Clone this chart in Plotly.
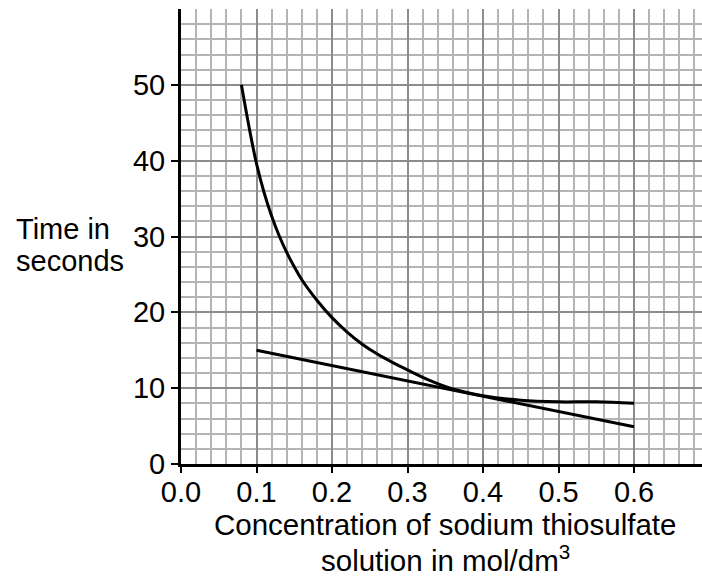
import plotly.graph_objects as go

# Curve: time taken vs concentration
curve_x = [0.08, 0.09, 0.10, 0.11, 0.12, 0.13, 0.14, 0.15, 0.16, 0.18, 0.20,
           0.22, 0.24, 0.26, 0.28, 0.30, 0.33, 0.36, 0.40, 0.45, 0.50, 0.55, 0.60]
curve_y = [50.0, 44.5, 39.6, 35.8, 32.7, 30.1, 27.9, 26.0, 24.3, 21.6, 19.3,
           17.4, 15.8, 14.5, 13.4, 12.4, 11.0, 9.9, 9.0, 8.4, 8.2, 8.2, 8.0]

# Tangent line drawn at 0.4 mol/dm3
tangent_x = [0.10, 0.60]
tangent_y = [15.0, 4.9]

x_ticks = [0.0, 0.1, 0.2, 0.3, 0.4, 0.5, 0.6]
x_ticktext = ["0.0", "0.1", "0.2", "0.3", "0.4", "0.5", "0.6"]
y_ticks = [0, 10, 20, 30, 40, 50]
y_ticktext = ["0", "10", "20", "30", "40", "50"]

FONT = "Liberation Sans, Arial, sans-serif"
FS = 29
MAJOR = "#8c8c8c"
MINOR = "#b4b4b4"

fig = go.Figure()
fig.add_trace(go.Scatter(x=curve_x, y=curve_y, mode="lines",
                         line=dict(color="black", width=3, shape="spline", smoothing=1.0),
                         hoverinfo="skip", showlegend=False))
fig.add_trace(go.Scatter(x=tangent_x, y=tangent_y, mode="lines",
                         line=dict(color="black", width=3),
                         hoverinfo="skip", showlegend=False))

fig.update_layout(
    width=702, height=578,
    margin=dict(l=181, r=0, t=9, b=114, autoexpand=False),
    paper_bgcolor="white", plot_bgcolor="white",
    font=dict(family=FONT, size=FS, color="black"),
    showlegend=False,
    xaxis=dict(
        range=[0, 0.690], tickvals=x_ticks, ticktext=x_ticktext, automargin=False,
        showgrid=True, gridcolor=MAJOR, gridwidth=2,
        minor=dict(dtick=0.02, tick0=0, showgrid=True, gridcolor=MINOR, gridwidth=1.5,
                   ticks=""),
        showline=True, linecolor="black", linewidth=3,
        ticks="outside", ticklen=6, tickwidth=1.5, tickcolor="black",
        ticklabelstandoff=-6,
        zeroline=False, tickfont=dict(size=FS),
    ),
    yaxis=dict(
        range=[0, 60], tickvals=y_ticks, ticktext=y_ticktext, automargin=False,
        showgrid=True, gridcolor=MAJOR, gridwidth=2,
        minor=dict(dtick=2, tick0=0, showgrid=True, gridcolor=MINOR, gridwidth=1.5,
                   ticks=""),
        showline=True, linecolor="black", linewidth=3,
        ticks="outside", ticklen=7, tickwidth=1.5, tickcolor="black",
        zeroline=False, tickfont=dict(size=FS),
    ),
    annotations=[
        dict(text="Time in", xref="paper", yref="paper",
             x=-0.32, y=0.5165, xanchor="left", yanchor="middle", align="left",
             showarrow=False, font=dict(size=FS)),
        dict(text="seconds", xref="paper", yref="paper",
             x=-0.32, y=0.446, xanchor="left", yanchor="middle", align="left",
             showarrow=False, font=dict(size=FS)),
        dict(text="Concentration of sodium thiosulfate",
             xref="paper", yref="paper", x=0.507, y=-0.132, xanchor="center", yanchor="middle",
             showarrow=False, font=dict(size=29.5)),
        dict(text="solution in mol/dm<sup>3</sup>",
             xref="paper", yref="paper", x=0.507, y=-0.2066, xanchor="center", yanchor="middle",
             showarrow=False, font=dict(size=29.5)),
    ],
)

fig.write_html("out.html", config={"displayModeBar": False},
               post_script="document.body.style.margin='0';")
